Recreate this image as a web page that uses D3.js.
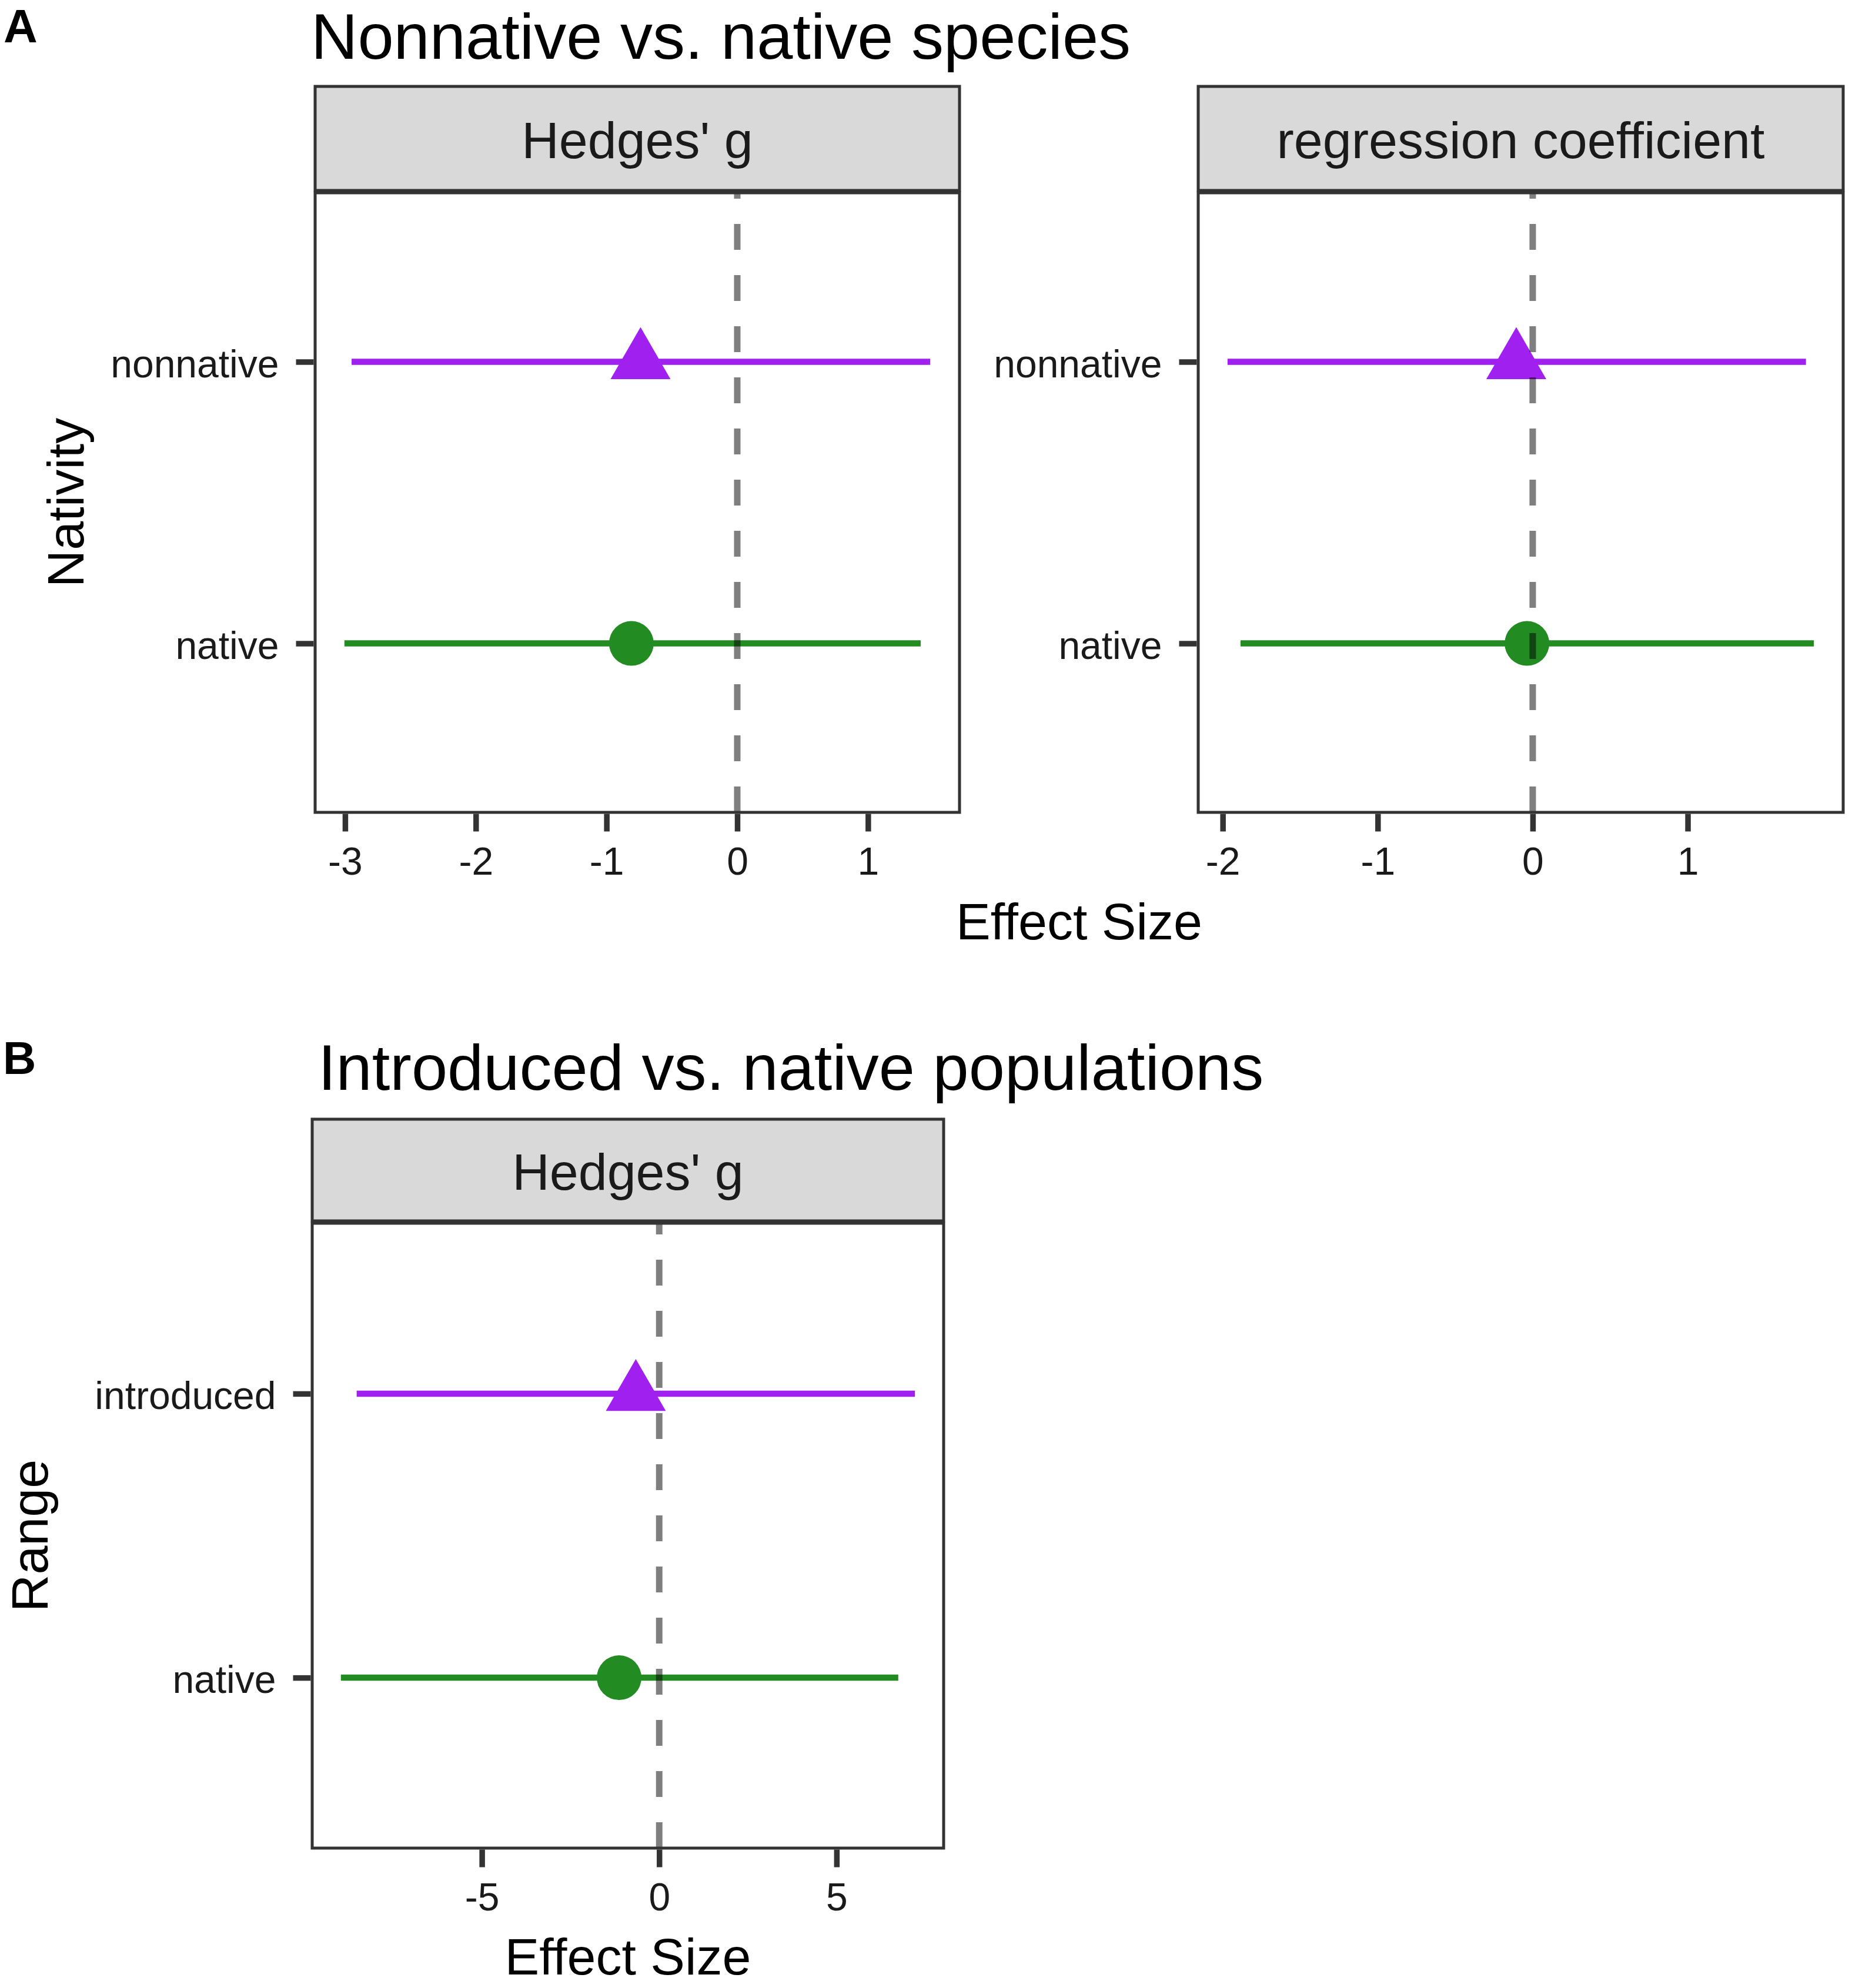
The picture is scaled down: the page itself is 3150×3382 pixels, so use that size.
<!DOCTYPE html>
<html>
<head>
<meta charset="utf-8">
<script src="https://cdn.jsdelivr.net/npm/d3@7/dist/d3.min.js"></script>
<style>
  html, body { margin: 0; padding: 0; background: #fff; }
  svg { display: block; }
</style>
</head>
<body>
<script>
// ---------------- DATA ----------------
const levelsA = ["native", "nonnative"];
const levelsB = ["native", "introduced"];
const seriesColors = ["#228B22", "#A020F0"];   // native = green, nonnative/introduced = purple
const seriesShapes = ["circle", "triangle"];

// Panel A, Hedges' g
const hedgesA_est = [-0.81, -0.74];
const hedgesA_lo  = [-3.005, -2.95];
const hedgesA_hi  = [1.403, 1.476];
// Panel A, regression coefficient
const regA_est = [-0.037, -0.106];
const regA_lo  = [-1.885, -1.969];
const regA_hi  = [1.814, 1.763];
// Panel B, Hedges' g
const hedgesB_est = [-1.13, -0.66];
const hedgesB_lo  = [-8.975, -8.53];
const hedgesB_hi  = [6.74, 7.21];

const ticksA1 = [-3, -2, -1, 0, 1];
const ticksA2 = [-2, -1, 0, 1];
const ticksB  = [-5, 0, 5];

const titleA = "Nonnative vs. native species";
const titleB = "Introduced vs. native populations";
const stripHedges = "Hedges' g";
const stripReg = "regression coefficient";
const xTitle = "Effect Size";
const yTitleA = "Nativity";
const yTitleB = "Range";

// ---------------- DRAW ----------------
const W = 3150, H = 3382;
const FONT = "'Liberation Sans', Arial, Helvetica, sans-serif";
const DARK = "#333333";

const svg = d3.select("body").append("svg")
  .attr("width", W).attr("height", H)
  .attr("viewBox", `0 0 ${W} ${H}`)
  .style("font-family", FONT);

svg.append("rect").attr("width", W).attr("height", H).attr("fill", "#fff");

function drawPanel(cfg) {
  const { x0, x1, stripTop, plotTop, plotBottom, strip, levels, est, lo, hi, ticks } = cfg;
  const g = svg.append("g");

  const mn = d3.min(lo), mx = d3.max(hi), r = mx - mn;
  const x = d3.scaleLinear().domain([mn - 0.05 * r, mx + 0.05 * r]).range([x0, x1]);
  const y = d3.scaleLinear().domain([0.4, levels.length + 0.6]).range([plotBottom, plotTop]);

  // strip
  g.append("rect")
    .attr("x", x0).attr("y", stripTop)
    .attr("width", x1 - x0).attr("height", plotTop - 4 - stripTop)
    .attr("fill", "#D9D9D9").attr("stroke", DARK).attr("stroke-width", 5);
  g.append("text")
    .attr("x", (x0 + x1) / 2)
    .attr("y", (stripTop + plotTop) / 2 + 0.358 * 88)
    .attr("text-anchor", "middle")
    .attr("font-size", 88).attr("fill", "#1a1a1a")
    .text(strip);

  // panel background
  g.append("rect")
    .attr("x", x0).attr("y", plotTop)
    .attr("width", x1 - x0).attr("height", plotBottom - plotTop)
    .attr("fill", "#fff");

  const data = levels.map((lev, i) => ({ lev, i, est: est[i], lo: lo[i], hi: hi[i] }));

  // error bars
  g.selectAll("line.err").data(data).enter().append("line")
    .attr("class", "err")
    .attr("x1", d => x(d.lo)).attr("x2", d => x(d.hi))
    .attr("y1", d => y(d.i + 1)).attr("y2", d => y(d.i + 1))
    .attr("stroke", d => seriesColors[d.i])
    .attr("stroke-width", 10.5);

  // points
  const sym = {
    circle: d3.symbol().type(d3.symbolCircle).size(Math.PI * 38 * 38),
    triangle: d3.symbol().type(d3.symbolTriangle).size(4504)
  };
  g.selectAll("path.pt").data(data).enter().append("path")
    .attr("class", "pt")
    .attr("d", d => sym[seriesShapes[d.i]]())
    .attr("transform", d => `translate(${x(d.est)},${y(d.i + 1)})`)
    .attr("fill", d => seriesColors[d.i]);

  // zero reference line (dashed, translucent)
  g.append("line")
    .attr("x1", x(0)).attr("x2", x(0))
    .attr("y1", plotBottom).attr("y2", plotTop)
    .attr("stroke", "#000").attr("stroke-opacity", 0.5)
    .attr("stroke-width", 11)
    .attr("stroke-dasharray", "44 43");

  // panel border
  g.append("rect")
    .attr("x", x0).attr("y", plotTop)
    .attr("width", x1 - x0).attr("height", plotBottom - plotTop)
    .attr("fill", "none").attr("stroke", DARK).attr("stroke-width", 5);

  // x axis
  const xa = g.append("g")
    .attr("transform", `translate(0,${plotBottom + 2.5})`)
    .call(d3.axisBottom(x).tickValues(ticks).tickFormat(d => String(d))
      .tickSize(30).tickPadding(27));
  xa.select(".domain").remove();
  xa.selectAll(".tick line").attr("stroke", DARK).attr("stroke-width", 9.5);
  xa.selectAll(".tick text").attr("font-size", 66).attr("fill", "#1a1a1a")
    .attr("font-family", FONT);

  // y axis
  const ya = g.append("g")
    .attr("transform", `translate(${x0 - 2.5},0)`)
    .call(d3.axisLeft(y).tickValues(levels.map((_, i) => i + 1))
      .tickFormat(v => levels[v - 1]).tickSize(30).tickPadding(29));
  ya.select(".domain").remove();
  ya.selectAll(".tick line").attr("stroke", DARK).attr("stroke-width", 9.5);
  ya.selectAll(".tick text").attr("font-size", 66).attr("fill", "#1a1a1a")
    .attr("dy", "0.39em").attr("font-family", FONT);

  return x;
}

// ---- Panel A ----
svg.append("text").attr("x", 6).attr("y", 72)
  .attr("font-size", 80).attr("font-weight", "bold").attr("fill", "#000").text("A");
svg.append("text").attr("x", 529).attr("y", 100)
  .attr("font-size", 110).attr("fill", "#000").text(titleA);

drawPanel({
  x0: 536, x1: 1632, stripTop: 147, plotTop: 328, plotBottom: 1382,
  strip: stripHedges, levels: levelsA,
  est: hedgesA_est, lo: hedgesA_lo, hi: hedgesA_hi, ticks: ticksA1
});
drawPanel({
  x0: 2038, x1: 3135, stripTop: 147, plotTop: 328, plotBottom: 1382,
  strip: stripReg, levels: levelsA,
  est: regA_est, lo: regA_lo, hi: regA_hi, ticks: ticksA2
});

svg.append("text").attr("x", (536 + 3135) / 2).attr("y", 1598)
  .attr("text-anchor", "middle").attr("font-size", 88).attr("fill", "#000").text(xTitle);
svg.append("text")
  .attr("transform", `translate(142,${(328 + 1382) / 2}) rotate(-90)`)
  .attr("text-anchor", "middle").attr("font-size", 88).attr("fill", "#000").text(yTitleA);

// ---- Panel B ----
svg.append("text").attr("x", 5).attr("y", 1827)
  .attr("font-size", 78).attr("font-weight", "bold").attr("fill", "#000").text("B");
svg.append("text").attr("x", 541).attr("y", 1854)
  .attr("font-size", 110).attr("fill", "#000").text(titleB);

drawPanel({
  x0: 531, x1: 1605, stripTop: 1904, plotTop: 2081, plotBottom: 3144,
  strip: stripHedges, levels: levelsB,
  est: hedgesB_est, lo: hedgesB_lo, hi: hedgesB_hi, ticks: ticksB
});

svg.append("text").attr("x", (531 + 1605) / 2).attr("y", 3359)
  .attr("text-anchor", "middle").attr("font-size", 88).attr("fill", "#000").text(xTitle);
svg.append("text")
  .attr("transform", `translate(81,${(2081 + 3144) / 2}) rotate(-90)`)
  .attr("text-anchor", "middle").attr("font-size", 88).attr("fill", "#000").text(yTitleB);
</script>
</body>
</html>
